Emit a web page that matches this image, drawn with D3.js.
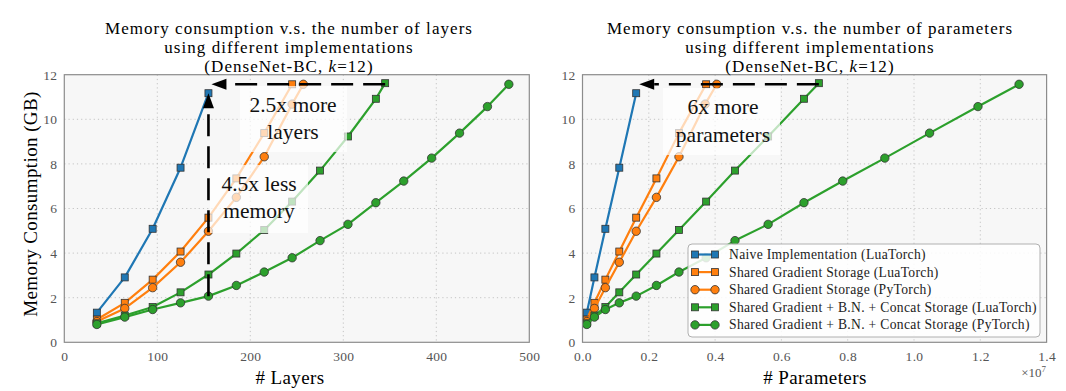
<!DOCTYPE html>
<html>
<head>
<meta charset="utf-8">
<script src="https://cdn.jsdelivr.net/npm/d3@7"></script>
<style>
  html, body { margin: 0; padding: 0; background: #fff; }
  svg { display: block; }
  text { font-family: "Liberation Serif", "Times New Roman", serif; }
</style>
</head>
<body>
<svg id="chart" width="1066" height="391"></svg>
<script>
// ---------------- data ----------------
const seriesNames = [
  "Naive Implementation (LuaTorch)",
  "Shared Gradient Storage (LuaTorch)",
  "Shared Gradient Storage (PyTorch)",
  "Shared Gradient + B.N. + Concat Storage (LuaTorch)",
  "Shared Gradient + B.N. + Concat Storage (PyTorch)"
];
const seriesColors = ["#1f77b4", "#ff7f0e", "#ff7f0e", "#2ca02c", "#2ca02c"];
const seriesMarkers = ["square", "square", "circle", "square", "circle"];

// number of layers
const layersBlue     = [35, 65, 95, 125, 155];
const layersOrangeSq = [35, 65, 95, 125, 155, 185, 215, 245];
const layersOrangeCi = [35, 65, 95, 125, 155, 185, 215, 245, 257];
const layersGreenSq  = [35, 65, 95, 125, 155, 185, 215, 245, 275, 305, 335, 345];
const layersGreenCi  = [35, 65, 95, 125, 155, 185, 215, 245, 275, 305, 335, 365, 395, 425, 455, 478];

// number of parameters (millions)
const paramsBlue     = [0.13, 0.36, 0.69, 1.11, 1.62];
const paramsOrangeSq = [0.13, 0.36, 0.69, 1.11, 1.62, 2.23, 2.91, 3.73];
const paramsOrangeCi = [0.13, 0.36, 0.69, 1.11, 1.62, 2.23, 2.91, 3.70, 4.05];
const paramsGreenSq  = [0.13, 0.36, 0.69, 1.11, 1.62, 2.23, 2.91, 3.73, 4.60, 5.60, 6.68, 7.13];
const paramsGreenCi  = [0.13, 0.36, 0.69, 1.11, 1.62, 2.23, 2.91, 3.73, 4.60, 5.60, 6.68, 7.85, 9.12, 10.47, 11.93, 13.17];

// memory consumption (GB)
const memBlue     = [1.33, 2.91, 5.09, 7.83, 11.17];
const memOrangeSq = [1.02, 1.77, 2.81, 4.07, 5.59, 7.35, 9.38, 11.57];
const memOrangeCi = [0.93, 1.52, 2.45, 3.59, 4.98, 6.50, 8.32, 10.68, 11.57];
const memGreenSq  = [0.85, 1.20, 1.58, 2.24, 3.04, 3.98, 5.04, 6.31, 7.70, 9.23, 10.92, 11.62];
const memGreenCi  = [0.80, 1.13, 1.47, 1.77, 2.07, 2.55, 3.15, 3.79, 4.56, 5.29, 6.26, 7.23, 8.26, 9.38, 10.57, 11.57];

const layerTicks = [0, 100, 200, 300, 400, 500];
const paramTicks = [0, 2e6, 4e6, 6e6, 8e6, 10e6, 12e6, 14e6];
const memTicks = [0, 2, 4, 6, 8, 10, 12];

const titleLeft = ["Memory consumption v.s. the number of layers", "using different implementations"];
const titleRight = ["Memory consumption v.s. the number of parameters", "using different implementations"];

const layersX = [layersBlue, layersOrangeSq, layersOrangeCi, layersGreenSq, layersGreenCi];
const paramsX = [paramsBlue, paramsOrangeSq, paramsOrangeCi, paramsGreenSq, paramsGreenCi];
const memY = [memBlue, memOrangeSq, memOrangeCi, memGreenSq, memGreenCi];

// ---------------- drawing ----------------
const svg = d3.select("#chart");
const yTop = 74.7, yBottom = 342.3;
const y = d3.scaleLinear().domain([0, 12]).range([yBottom, yTop]);

const xL = d3.scaleLinear().domain([0, 500]).range([64.3, 529.3]);
const xR = d3.scaleLinear().domain([0, 1.4e7]).range([582.5, 1046.6]);

function panel(x, xTicks, xFmt, xsList, scaleMul) {
  const g = svg.append("g");
  const [x0, x1] = x.range();
  g.append("rect").attr("x", x0).attr("y", yTop).attr("width", x1 - x0).attr("height", yBottom - yTop)
    .attr("fill", "#f7f7f7");
  // grid
  g.append("g").selectAll("line").data(xTicks.slice(1, -1)).join("line")
    .attr("x1", d => x(d)).attr("x2", d => x(d)).attr("y1", yTop).attr("y2", yBottom)
    .attr("stroke", "#c4c4c4").attr("stroke-width", 1).attr("stroke-dasharray", "1.2,3");
  g.append("g").selectAll("line").data(memTicks.slice(1, -1)).join("line")
    .attr("x1", x0).attr("x2", x1).attr("y1", d => y(d)).attr("y2", d => y(d))
    .attr("stroke", "#c4c4c4").attr("stroke-width", 1).attr("stroke-dasharray", "1.2,3");

  // axes with d3
  const ax = g.append("g").attr("transform", `translate(0,${yBottom})`)
    .call(d3.axisBottom(x).tickValues(xTicks).tickFormat(xFmt).tickSize(0).tickPadding(9));
  const ay = g.append("g").attr("transform", `translate(${x0},0)`)
    .call(d3.axisLeft(y).tickValues(memTicks).tickFormat(d3.format("d")).tickSize(0).tickPadding(7));
  [ax, ay].forEach(a => {
    a.select(".domain").remove();
    a.selectAll("text").attr("font-family", "Liberation Serif, serif").attr("font-size", 13.5)
      .attr("letter-spacing", 0.3).attr("fill", "#555");
  });

  // series
  const line = d3.line();
  const seriesG = g.append("g");
  xsList.forEach((xs, i) => {
    const pts = xs.map((v, j) => [x(v * scaleMul), y(memY[i][j])]);
    seriesG.append("path").attr("d", line(pts)).attr("fill", "none")
      .attr("stroke", seriesColors[i]).attr("stroke-width", 2.2).attr("stroke-linejoin", "round");
    if (seriesMarkers[i] === "square") {
      seriesG.append("g").selectAll("rect").data(pts).join("rect")
        .attr("x", d => d[0] - 3.5).attr("y", d => d[1] - 3.5).attr("width", 7).attr("height", 7)
        .attr("fill", seriesColors[i]).attr("stroke", "#333").attr("stroke-width", 0.8);
    } else {
      seriesG.append("g").selectAll("circle").data(pts).join("circle")
        .attr("cx", d => d[0]).attr("cy", d => d[1]).attr("r", 4.2)
        .attr("fill", seriesColors[i]).attr("stroke", "#333").attr("stroke-width", 0.8);
    }
  });
  // frame
  g.append("rect").attr("x", x0).attr("y", yTop).attr("width", x1 - x0).attr("height", yBottom - yTop)
    .attr("fill", "none").attr("stroke", "#8c8c8c").attr("stroke-width", 1.2);
  return g;
}

panel(xL, layerTicks, d3.format("d"), layersX, 1);
panel(xR, paramTicks, d => (d / 1e7).toFixed(1), paramsX, 1e6);

// titles
function title(cx, lines) {
  const t = svg.append("text").attr("text-anchor", "middle").attr("font-size", 17)
    .attr("letter-spacing", 1.05).attr("fill", "#000");
  lines.forEach((l, i) => t.append("tspan").attr("x", cx).attr("y", 34 + i * 19).text(l));
  const t3 = t.append("tspan").attr("x", cx).attr("y", 72);
  t3.append("tspan").text("(DenseNet-BC, ");
  t3.append("tspan").attr("font-style", "italic").text("k");
  t3.append("tspan").text("=12)");
}
title(289, titleLeft);
title(810, titleRight);

// axis labels
svg.append("text").attr("x", 290).attr("y", 384).attr("text-anchor", "middle")
  .attr("font-size", 19).attr("letter-spacing", 0.4).text("# Layers");
svg.append("text").attr("x", 815).attr("y", 384).attr("text-anchor", "middle")
  .attr("font-size", 19).attr("letter-spacing", 0.4).text("# Parameters");
svg.append("text").attr("transform", "translate(37,204) rotate(-90)").attr("text-anchor", "middle")
  .attr("font-size", 19).attr("letter-spacing", 0.4).text("Memory Consumption (GB)");
const mult = svg.append("text").attr("x", 1046).attr("y", 377).attr("text-anchor", "end")
  .attr("font-size", 13).attr("fill", "#555");
mult.append("tspan").text("×10");
mult.append("tspan").attr("dy", -5).attr("font-size", 9).text("7");

// annotation boxes (semi-transparent white)
function annBox(x0, y0, x1, y1, lines, cx, baselines) {
  svg.append("rect").attr("x", x0).attr("y", y0).attr("width", x1 - x0).attr("height", y1 - y0)
    .attr("fill", "#fff").attr("fill-opacity", 0.7);
  lines.forEach((l, i) => svg.append("text").attr("x", cx).attr("y", baselines[i])
    .attr("text-anchor", "middle").attr("font-size", 21.5).attr("fill", "#111").text(l));
}
annBox(240, 86, 347, 152, ["2.5x more", "layers"], 293, [112, 139]);
annBox(210, 165, 308, 233, ["4.5x less", "memory"], 259, [191, 218]);
annBox(663, 88, 780, 155, ["6x more", "parameters"], 723, [114, 142]);

// dashed arrows
function arrow(xa, ya, xb, yb) {
  const dx = xb - xa, dy = yb - ya, len = Math.hypot(dx, dy);
  const ux = dx / len, uy = dy / len;
  const hl = 15, hw = 5.5;
  const bx = xb - ux * hl, by = yb - uy * hl;
  svg.append("line").attr("x1", xa).attr("y1", ya).attr("x2", bx).attr("y2", by)
    .attr("stroke", "#000").attr("stroke-width", 2.6).attr("stroke-dasharray", "22,10");
  svg.append("path").attr("d", `M${xb},${yb}L${bx - uy * hw},${by + ux * hw}L${bx + uy * hw},${by - ux * hw}Z`)
    .attr("fill", "#000");
}
arrow(xL(layersGreenCi[4]), y(memGreenCi[4]), xL(layersBlue[4]), y(memBlue[4]));
arrow(xL(layersGreenSq[11]), y(11.57), xL(layersBlue[4]) + 3, y(11.57));
arrow(xR(paramsGreenSq[11] * 1e6), y(11.57), xR(paramsBlue[4] * 1e6) + 3, y(11.57));

// legend
const lg = svg.append("g");
lg.append("rect").attr("x", 688).attr("y", 244).attr("width", 352).attr("height", 93).attr("rx", 4)
  .attr("fill", "#fff").attr("fill-opacity", 0.85).attr("stroke", "#b0b0b0").attr("stroke-width", 1);
seriesNames.forEach((name, i) => {
  const cy = 254.5 + i * 17.6;
  const row = lg.append("g");
  row.append("line").attr("x1", 695).attr("x2", 715).attr("y1", cy).attr("y2", cy)
    .attr("stroke", seriesColors[i]).attr("stroke-width", 2.2);
  [695, 715].forEach(mx => {
    if (seriesMarkers[i] === "square") {
      row.append("rect").attr("x", mx - 3.5).attr("y", cy - 3.5).attr("width", 7).attr("height", 7)
        .attr("fill", seriesColors[i]).attr("stroke", "#333").attr("stroke-width", 0.8);
    } else {
      row.append("circle").attr("cx", mx).attr("cy", cy).attr("r", 4.2)
        .attr("fill", seriesColors[i]).attr("stroke", "#333").attr("stroke-width", 0.8);
    }
  });
  row.append("text").attr("x", 729).attr("y", cy + 4.5).attr("font-size", 13.6)
    .attr("letter-spacing", 0.32).attr("fill", "#222").text(name);
});
</script>
</body>
</html>
